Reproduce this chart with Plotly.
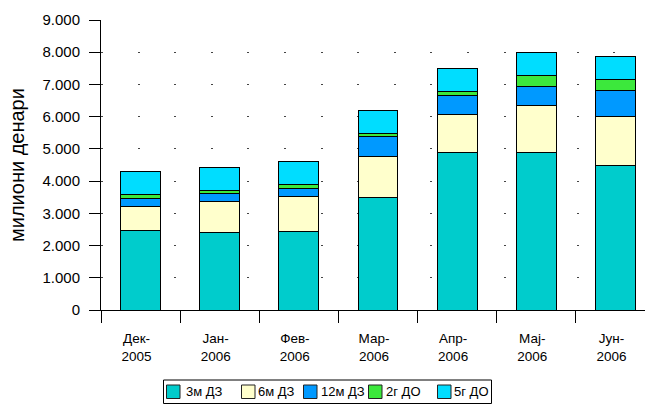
import plotly.graph_objects as go

categories = ["Дек-<br>2005", "Јан-<br>2006", "Фев-<br>2006", "Мар-<br>2006",
              "Апр-<br>2006", "Мај-<br>2006", "Јун-<br>2006"]
s_3m = [2460, 2410, 2440, 3500, 4880, 4890, 4480]
s_6m = [760, 950, 1090, 1270, 1180, 1450, 1530]
s_12m = [250, 260, 255, 600, 600, 590, 810]
s_2g = [125, 100, 105, 100, 115, 350, 340]
s_5g = [700, 705, 705, 725, 725, 715, 715]
series_names = ["3м ДЗ", "6м ДЗ", "12м ДЗ", "2г ДО", "5г ДО"]
series_values = [s_3m, s_6m, s_12m, s_2g, s_5g]
series_colors = ["#00CCCC", "#FFFFCC", "#0099FF", "#3CE83C", "#00DDFF"]

W, H = 645, 405
L, R, T, B = 101, 0, 20, 95
PW, PH = W - L - R, H - T - B

def px(x):
    return (x - L) / PW

def py(y):
    return (H - B - y) / PH

fig = go.Figure()
for name, vals, col in zip(series_names, series_values, series_colors):
    fig.add_trace(go.Bar(x=categories, y=vals, name=name,
                         marker=dict(color=col, line=dict(color="black", width=1))))

FONT = "Liberation Sans, Arial, sans-serif"
fig.update_layout(
    barmode="stack",
    bargap=0.495,
    width=W, height=H,
    margin=dict(l=L, r=R, t=T, b=B, pad=0, autoexpand=False),
    paper_bgcolor="white", plot_bgcolor="white",
    separators=",.",
    font=dict(family=FONT, size=13, color="black"),
    showlegend=False,
    xaxis=dict(type="category", range=[-0.5, 6.374], tickson="boundaries",
               ticks="outside", ticklen=12, tickcolor="black", showline=True,
               linecolor="black", linewidth=1, showgrid=False, automargin=False,
               tickfont=dict(size=13.5), ticklabelshift=-4, ticklabelstandoff=16),
    yaxis=dict(range=[0, 9000], dtick=1000, tickformat=",d", ticks="outside",
               ticklen=11, tickcolor="black", showline=True, linecolor="black",
               linewidth=1, showgrid=True, gridcolor="#444444", gridwidth=1,
               griddash="2px,34.6px", zeroline=False, tickfont=dict(size=15),
               ticklabelstandoff=6, automargin=False),
)
fig.add_annotation(text="милиони денари", xref="paper", yref="paper", x=px(17), y=0.5,
                   textangle=-90, showarrow=False,
                   font=dict(size=20, family=FONT), xanchor="center", yanchor="middle")

# legend box
leg_box = (163.5, 380, 491.5, 403.5)
fig.add_shape(type="rect", xref="paper", yref="paper",
              x0=px(leg_box[0]), x1=px(leg_box[2]), y0=py(leg_box[3]), y1=py(leg_box[1]),
              line=dict(color="black", width=1), fillcolor="white", layer="above")
sw_left = [166.5, 241.5, 303.5, 368.5, 437.5]
txt_left = [184.5, 256.5, 319.5, 384.5, 453]
for name, col, sx, tx in zip(series_names, series_colors, sw_left, txt_left):
    fig.add_shape(type="rect", xref="paper", yref="paper",
                  x0=px(sx), x1=px(sx + 13.5), y0=py(398.5), y1=py(385),
                  line=dict(color="#222222", width=1), fillcolor=col, layer="above")
    fig.add_annotation(text=name, xref="paper", yref="paper", x=px(tx), y=py(392),
                       xanchor="left", yanchor="middle", showarrow=False,
                       font=dict(size=13, family=FONT), borderpad=0)
fig.write_html("out.html", config={"displayModeBar": False},
               post_script="document.body.style.margin='0';document.body.style.overflow='hidden';")
